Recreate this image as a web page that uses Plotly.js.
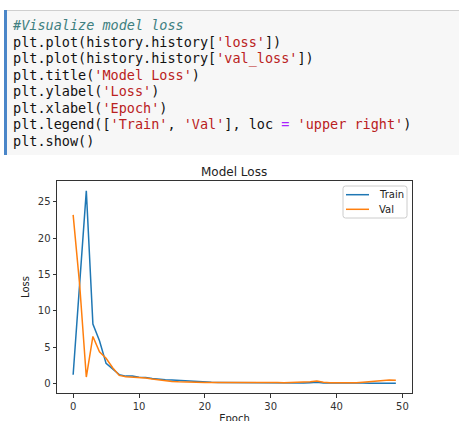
<!DOCTYPE html>
<html>
<head>
<meta charset="utf-8">
<script src="https://cdn.plot.ly/plotly-3.0.1.min.js"></script>
<style>
  html, body { margin: 0; padding: 0; width: 459px; height: 421px; overflow: hidden; background: #ffffff; }
  #bar { position: absolute; left: 4px; top: 10px; width: 3px; height: 420px; background: #4a86c8; }
  #code { position: absolute; left: 7px; top: 10px; width: 460px; height: 144px; background: #f7f7f7;
          border-top: 1px solid #cfcfcf; border-bottom: 1px solid #cfcfcf; }
  .ln { position: absolute; left: 6px; height: 16.5px; line-height: 16.5px; white-space: pre;
        font-family: "DejaVu Sans Mono", monospace; font-size: 13.5px; color: #111; }
  .c { color: #408080; font-style: italic; }
  .s { color: #ba2121; }
  .o { color: #aa22ff; }
  #chart { position: absolute; left: 0; top: 155px; width: 459px; height: 300px; }
</style>
</head>
<body>
<div id="bar"></div>
<div id="code">
<div class="ln" style="top:6px"><span class="c">#Visualize model loss</span></div>
<div class="ln" style="top:22.5px">plt.plot(history.history[<span class="s">'loss'</span>])</div>
<div class="ln" style="top:39px">plt.plot(history.history[<span class="s">'val_loss'</span>])</div>
<div class="ln" style="top:55.5px">plt.title(<span class="s">'Model Loss'</span>)</div>
<div class="ln" style="top:72px">plt.ylabel(<span class="s">'Loss'</span>)</div>
<div class="ln" style="top:88.5px">plt.xlabel(<span class="s">'Epoch'</span>)</div>
<div class="ln" style="top:105px">plt.legend([<span class="s">'Train'</span>, <span class="s">'Val'</span>], loc <span class="o">=</span> <span class="s">'upper right'</span>)</div>
<div class="ln" style="top:121.5px">plt.show()</div>
</div>
<div id="chart"></div>
<script>
const seriesNames = ['Train', 'Val'];
const trainLoss = [1.24, 13.9, 26.5, 8.2, 5.9, 2.8, 2.0, 1.25, 1.05, 1.05,
                   0.88, 0.87, 0.73, 0.6, 0.55, 0.5, 0.45, 0.36, 0.28, 0.27,
                   0.22, 0.2, 0.18, 0.17, 0.15, 0.13, 0.12, 0.14, 0.13, 0.1,
                   0.11, 0.12, 0.11, 0.1, 0.1, 0.12, 0.15, 0.2, 0.12, 0.1,
                   0.09, 0.1, 0.09, 0.1, 0.09, 0.08, 0.07, 0.07, 0.07, 0.07];
const valLoss = [23.2, 13.5, 0.92, 6.5, 4.4, 3.5, 2.2, 1.15, 0.97, 0.92,
                 0.83, 0.78, 0.64, 0.5, 0.37, 0.32, 0.27, 0.22, 0.18, 0.18,
                 0.16, 0.16, 0.17, 0.18, 0.16, 0.14, 0.15, 0.22, 0.18, 0.16,
                 0.17, 0.16, 0.15, 0.16, 0.16, 0.2, 0.28, 0.38, 0.2, 0.15,
                 0.13, 0.13, 0.12, 0.14, 0.2, 0.3, 0.4, 0.48, 0.5, 0.48];
const epochs = trainLoss.map((_, i) => i);
const xTicks = [0, 10, 20, 30, 40, 50];
const yTicks = [0, 5, 10, 15, 20, 25];
const seriesColors = ['#1f77b4', '#ff7f0e'];

const font = 'DejaVu Sans, sans-serif';
const W = 459, H = 300;
const M = { l: 57, r: 47, t: 26, b: 62 };
const PW = W - M.l - M.r, PH = H - M.t - M.b;
// pixel (within chart div) -> paper coords
const px = v => (v - M.l) / PW;
const py = v => 1 - (v - M.t) / PH;

const traces = [
  { x: epochs, y: trainLoss, name: seriesNames[0], mode: 'lines', line: { color: seriesColors[0], width: 1.5 } },
  { x: epochs, y: valLoss, name: seriesNames[1], mode: 'lines', line: { color: seriesColors[1], width: 1.5 } }
];
const axisCommon = {
  showline: true, mirror: true, linecolor: '#333', linewidth: 1,
  ticks: 'outside', ticklen: 3.5, tickwidth: 1, tickcolor: '#333',
  showgrid: false, zeroline: false,
  tickfont: { family: font, size: 10, color: '#333' }
};

// manual matplotlib-style legend (box in div pixels)
const lg = { x0: 343, x1: 407, y0: 31, y1: 63, r: 2.5 };
const rx = lg.r / PW, ry = lg.r / PH;
const X0 = px(lg.x0), X1 = px(lg.x1), Y0 = py(lg.y1), Y1 = py(lg.y0);
const boxPath = `M ${X0 + rx},${Y0} L ${X1 - rx},${Y0} Q ${X1},${Y0} ${X1},${Y0 + ry} L ${X1},${Y1 - ry} Q ${X1},${Y1} ${X1 - rx},${Y1} L ${X0 + rx},${Y1} Q ${X0},${Y1} ${X0},${Y1 - ry} L ${X0},${Y0 + ry} Q ${X0},${Y0} ${X0 + rx},${Y0} Z`;
const rowY = [39.7, 54.3];
const shapes = [{ type: 'path', xref: 'paper', yref: 'paper', path: boxPath,
                  fillcolor: 'rgba(255,255,255,0.8)', line: { color: '#cccccc', width: 1 }, layer: 'above' }];
const annotations = [];
seriesNames.forEach((n, i) => {
  shapes.push({ type: 'line', xref: 'paper', yref: 'paper', x0: px(346), x1: px(369), y0: py(rowY[i]), y1: py(rowY[i]),
                line: { color: seriesColors[i], width: 1.5 }, layer: 'above' });
  annotations.push({ xref: 'paper', yref: 'paper', x: px(377), y: py(rowY[i]), xanchor: 'left', yanchor: 'middle',
                     text: n, showarrow: false, font: { family: font, size: 10, color: '#222' } });
});

const layout = {
  width: W, height: H,
  margin: M,
  paper_bgcolor: '#ffffff', plot_bgcolor: '#ffffff',
  title: { text: 'Model Loss', font: { family: font, size: 12, color: '#222' },
           x: 0.51, xanchor: 'center', y: 1 - 17 / H, yanchor: 'middle' },
  xaxis: Object.assign({}, axisCommon, {
    range: [-2.45, 51.45], tickvals: xTicks, ticktext: xTicks.map(String),
    title: { text: 'Epoch', font: { family: font, size: 10, color: '#222' }, standoff: 4 }
  }),
  yaxis: Object.assign({}, axisCommon, {
    range: [-1.27, 27.85], tickvals: yTicks, ticktext: yTicks.map(String),
    title: { text: 'Loss', font: { family: font, size: 10, color: '#222' }, standoff: 6 }
  }),
  showlegend: false,
  shapes: shapes,
  annotations: annotations
};
Plotly.newPlot('chart', traces, layout, { displayModeBar: false, staticPlot: true });
</script>
</body>
</html>
